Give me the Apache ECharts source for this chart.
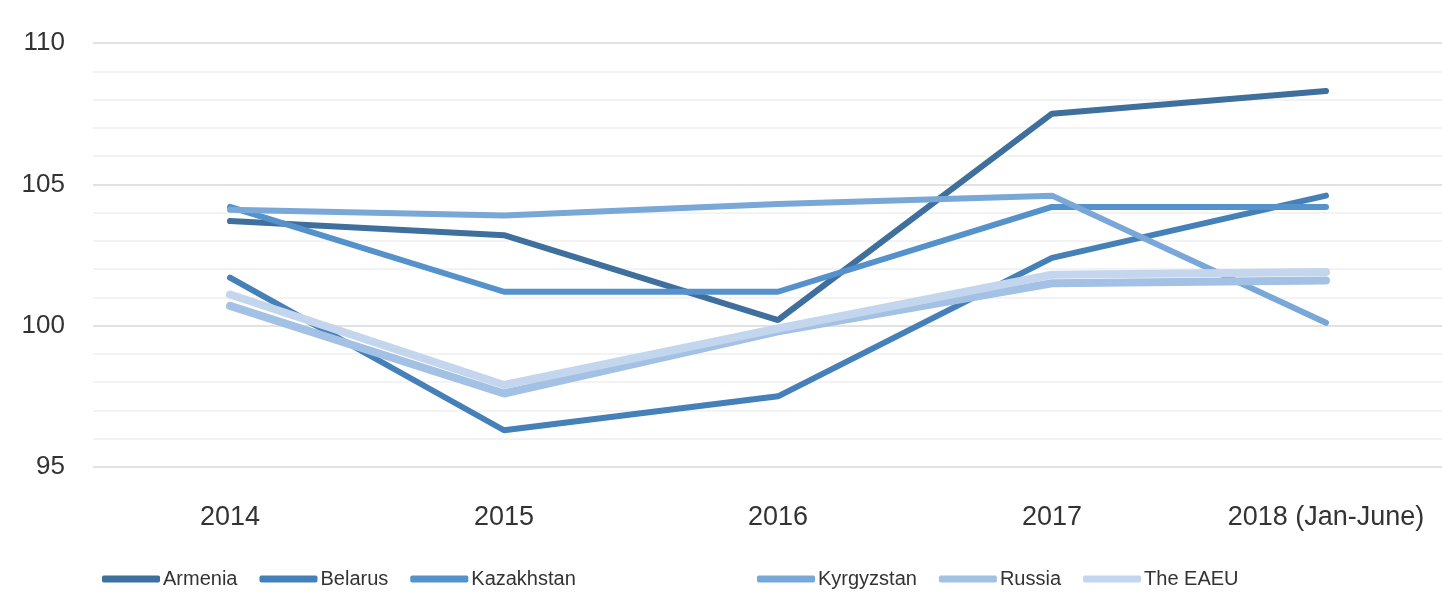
<!DOCTYPE html>
<html><head><meta charset="utf-8">
<script src="https://cdn.jsdelivr.net/npm/echarts@6/dist/echarts.min.js"></script>
<style>html,body{margin:0;padding:0;background:#fff;overflow:hidden}#c{width:1480px;height:603px}</style>
</head><body><div id="c"></div>
<script>
const categories = ['2014', '2015', '2016', '2017', '2018 (Jan-June)'];
const armenia    = [103.7, 103.2, 100.2, 107.5, 108.3];
const belarus    = [101.7, 96.3, 97.5, 102.4, 104.6];
const kazakhstan = [104.2, 101.2, 101.2, 104.2, 104.2];
const kyrgyzstan = [104.1, 103.9, 104.3, 104.6, 100.1];
const russia     = [100.7, 97.6, 99.8, 101.5, 101.6];
const eaeu       = [101.1, 97.9, 99.9, 101.8, 101.9];
const yTicks     = [95, 100, 105, 110];

const names = ['Armenia', 'Belarus', 'Kazakhstan', 'Kyrgyzstan', 'Russia', 'The EAEU'];
const data = [armenia, belarus, kazakhstan, kyrgyzstan, russia, eaeu];
const colors = ['#3f6f9c', '#4680b8', '#5592cb', '#78a7d8', '#a3c1e4', '#c3d6ee'];
const widths = [6, 6, 6, 6, 8, 8];
const FONT = '"Liberation Sans", Arial, sans-serif';

const legendBase = {
  bottom: 9,
  itemWidth: 58, itemHeight: 7, itemGap: 22,
  icon: 'roundRect',
  textStyle: { fontFamily: FONT, fontSize: 20, color: '#333', padding: [0, 0, 0, -2] }
};

const chart = echarts.init(document.getElementById('c'));
chart.setOption({
  animation: false,
  color: colors,
  grid: { left: 93, right: 17, top: 43, bottom: 136 },
  legend: [
    Object.assign({}, legendBase, { left: 97, data: names.slice(0, 3) }),
    Object.assign({}, legendBase, { left: 752, data: names.slice(3) })
  ],
  xAxis: {
    type: 'category', data: categories, boundaryGap: true,
    axisLine: { show: false }, axisTick: { show: false },
    axisLabel: { fontFamily: FONT, fontSize: 27, color: '#333', margin: 37 }
  },
  yAxis: {
    type: 'value', min: yTicks[0], max: yTicks[yTicks.length - 1], interval: 5,
    axisLine: { show: false }, axisTick: { show: false },
    axisLabel: { fontFamily: FONT, fontSize: 26, color: '#333', margin: 28 },
    splitLine: { lineStyle: { color: '#d9d9d9', width: 1.5 } },
    minorTick: { show: false, splitNumber: 5 },
    minorSplitLine: { show: true, lineStyle: { color: '#efefef', width: 1.5 } }
  },
  series: names.map((n, i) => ({
    name: n, type: 'line', data: data[i], symbol: 'none',
    lineStyle: { width: widths[i], color: colors[i], cap: 'round' },
    itemStyle: { color: colors[i] }
  }))
});
</script></body></html>
